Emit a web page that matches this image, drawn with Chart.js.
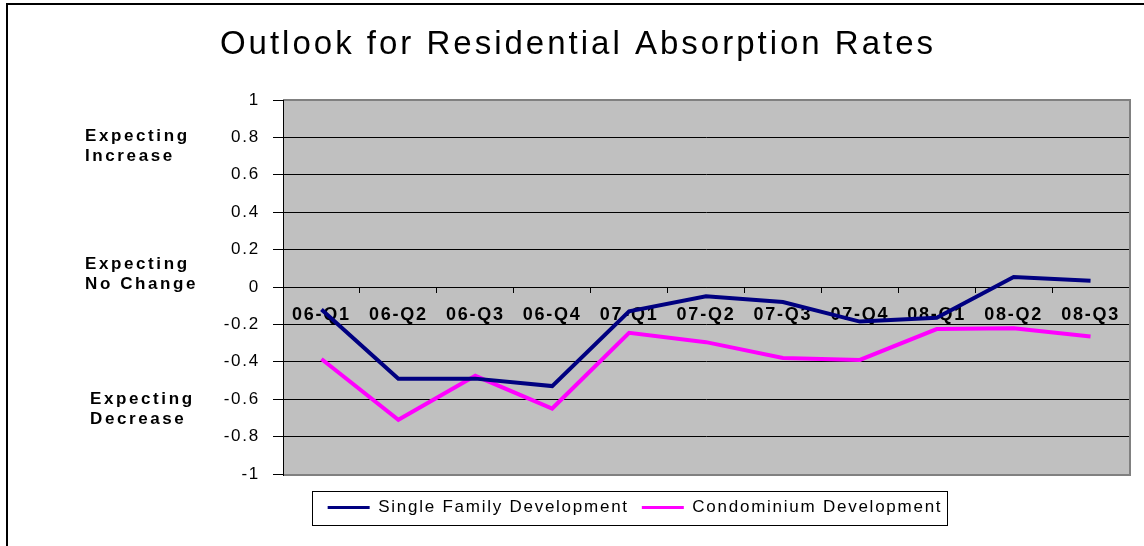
<!DOCTYPE html>
<html lang="en">

<head>
    <meta charset="UTF-8">
    <title>Outlook for Residential Absorption Rates</title>
    <script src="https://cdn.jsdelivr.net/npm/chart.js"></script>
    <style>
        html, body {
            margin: 0;
            padding: 0;
            background: #fff;
        }

        canvas {
            display: block;
        }
    </style>
</head>

<body>
    <canvas id="absorptionChart" width="1144" height="546"></canvas>

    <script>
        // data
        const quarters = ['06-Q1', '06-Q2', '06-Q3', '06-Q4', '07-Q1', '07-Q2', '07-Q3', '07-Q4', '08-Q1', '08-Q2', '08-Q3'];
        const singleFamily = [-0.12, -0.49, -0.49, -0.53, -0.13, -0.05, -0.08, -0.185, -0.165, 0.053, 0.033];
        const condominium = [-0.385, -0.71, -0.475, -0.65, -0.245, -0.295, -0.38, -0.39, -0.225, -0.22, -0.265];
        const seriesNames = ['Single Family Development', 'Condominium Development'];
        const titleText = 'Outlook for Residential Absorption Rates';

        // side notes next to the value axis, anchored to a value
        const sideNotes = [
            { lines: ['Expecting', 'Increase'], value: 0.75, x: 85 },
            { lines: ['Expecting', 'No Change'], value: 0.07, x: 85 },
            { lines: ['Expecting', 'Decrease'], value: -0.652, x: 90 }
        ];

        const FONT = '"Liberation Sans", Arial, sans-serif';
        const SPACING = '1.75px';
        const LEGEND_PAD = 13;
        const LEGEND_SIZE = 17;
        Chart.defaults.font.family = FONT;
        Chart.defaults.color = '#000';

        // Excel-style plot background, frame, title and legend box
        const excelLook = {
            id: 'excelLook',
            beforeLayout(chart) {
                chart.ctx.letterSpacing = SPACING;
            },
            afterLayout(chart) {
                // push legend down a little below the plot
                chart.legend.top += 12;
                chart.legend.bottom += 12;
            },
            beforeDraw(chart) {
                const ctx = chart.ctx;
                const a = chart.chartArea;
                ctx.letterSpacing = SPACING;
                ctx.save();
                ctx.fillStyle = '#C0C0C0';
                ctx.fillRect(a.left, a.top, a.right - a.left, a.bottom - a.top);
                // outer frame (cut off on right and bottom like the source)
                ctx.strokeStyle = '#000';
                ctx.lineWidth = 2;
                ctx.beginPath();
                ctx.moveTo(7, chart.height + 5);
                ctx.lineTo(7, 4);
                ctx.lineTo(chart.width + 5, 4);
                ctx.stroke();
                ctx.restore();
            },
            beforeDatasetsDraw(chart) {
                const ctx = chart.ctx;
                const a = chart.chartArea;
                ctx.save();
                ctx.strokeStyle = '#808080';
                ctx.lineWidth = 2;
                ctx.beginPath();
                ctx.moveTo(a.left, a.top);
                ctx.lineTo(a.right + 1, a.top);
                ctx.lineTo(a.right + 1, a.bottom + 1);
                ctx.lineTo(a.left, a.bottom + 1);
                ctx.stroke();
                // value axis line back on top
                ctx.strokeStyle = '#000';
                ctx.lineWidth = 1;
                ctx.beginPath();
                ctx.moveTo(a.left + 0.5, a.top);
                ctx.lineTo(a.left + 0.5, a.bottom + 2);
                ctx.stroke();
                ctx.restore();
            },
            afterDraw(chart) {
                const ctx = chart.ctx;
                const y = chart.scales.y;
                ctx.save();

                // title
                ctx.letterSpacing = '3px';
                ctx.font = '33px ' + FONT;
                ctx.fillStyle = '#000';
                ctx.textAlign = 'center';
                ctx.textBaseline = 'middle';
                ctx.fillText(titleText, chart.width / 2 + 6, 45);

                // side notes
                ctx.letterSpacing = '2.6px';
                ctx.font = 'bold 17px ' + FONT;
                ctx.textAlign = 'left';
                sideNotes.forEach(note => {
                    const cy = y.getPixelForValue(note.value);
                    ctx.fillText(note.lines[0], note.x, cy - 10);
                    ctx.fillText(note.lines[1], note.x, cy + 10);
                });

                // legend frame
                const lg = chart.legend;
                const hb = lg.legendHitBoxes;
                if (hb && hb.length) {
                    const last = hb[hb.length - 1];
                    const x0 = hb[0].left - 16;
                    const x1 = last.left + last.width + 4;
                    const cy = lg.top + LEGEND_PAD + LEGEND_SIZE / 2;
                    ctx.strokeStyle = '#000';
                    ctx.lineWidth = 1;
                    ctx.strokeRect(Math.round(x0) + 0.5, Math.round(cy - 17) + 0.5, Math.round(x1 - x0), 34);
                }
                ctx.restore();
            }
        };

        new Chart(document.getElementById('absorptionChart'), {
            type: 'line',
            data: {
                labels: quarters,
                datasets: [{
                    label: seriesNames[0],
                    data: singleFamily,
                    borderColor: '#000080',
                    backgroundColor: '#000080',
                    borderWidth: 4,
                    pointRadius: 0,
                    tension: 0,
                    fill: false
                }, {
                    label: seriesNames[1],
                    data: condominium,
                    borderColor: '#FF00FF',
                    backgroundColor: '#FF00FF',
                    borderWidth: 4,
                    pointRadius: 0,
                    tension: 0,
                    fill: false
                }]
            },
            options: {
                responsive: false,
                animation: false,
                layout: {
                    padding: { left: 141, right: 15, top: 100, bottom: 32 }
                },
                plugins: {
                    title: { display: false },
                    tooltip: { enabled: false },
                    legend: {
                        position: 'bottom',
                        labels: {
                            usePointStyle: true,
                            pointStyle: 'line',
                            pointStyleWidth: 42,
                            padding: LEGEND_PAD,
                            color: '#000',
                            font: { size: LEGEND_SIZE },
                            generateLabels(chart) {
                                const items = Chart.defaults.plugins.legend.labels.generateLabels(chart);
                                items.forEach(it => { it.lineWidth = 3; });
                                return items;
                            }
                        }
                    }
                },
                scales: {
                    x: {
                        type: 'category',
                        position: { y: 0 },
                        offset: true,
                        grid: {
                            offset: true,
                            drawOnChartArea: false,
                            drawTicks: true,
                            tickLength: 5,
                            color: '#000'
                        },
                        border: { color: '#000', width: 1 },
                        ticks: {
                            autoSkip: false,
                            maxRotation: 0,
                            padding: 12,
                            color: '#000',
                            font: { size: 18, weight: 'bold' }
                        }
                    },
                    y: {
                        min: -1,
                        max: 1,
                        grid: {
                            color: '#000',
                            lineWidth: 1,
                            tickLength: 10
                        },
                        border: { color: '#000', width: 1 },
                        ticks: {
                            stepSize: 0.2,
                            padding: 13,
                            color: '#000',
                            font: { size: 17 },
                            callback: v => String(+(+v).toFixed(1))
                        },
                        afterFit(scale) {
                            scale.width = 142;
                        }
                    }
                }
            },
            plugins: [excelLook]
        });
    </script>
</body>

</html>
